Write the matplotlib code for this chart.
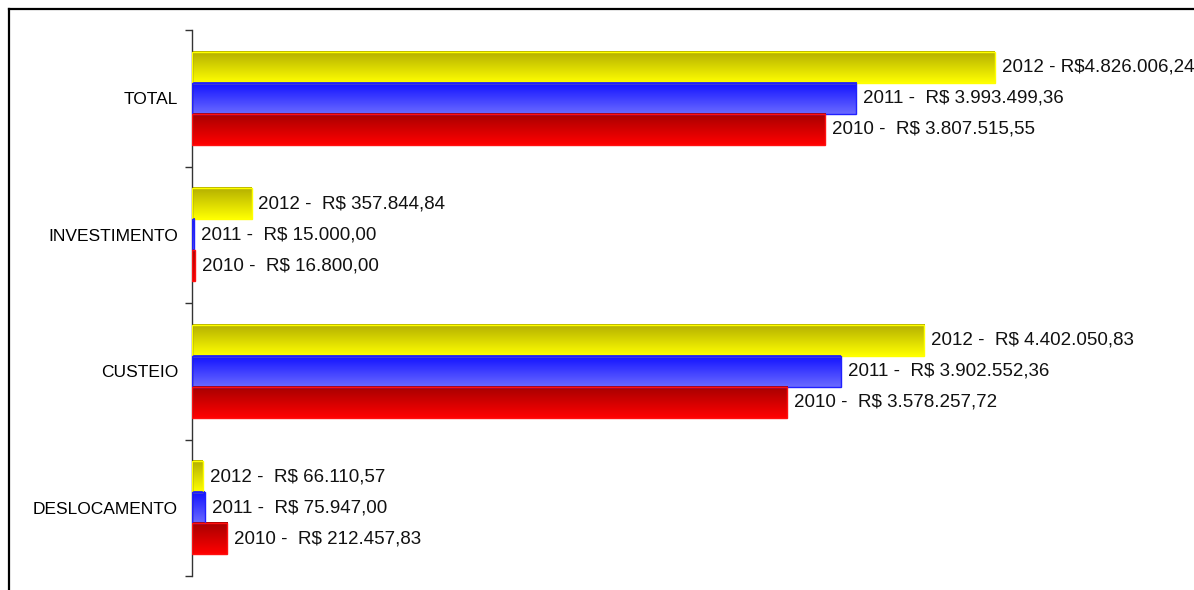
import numpy as np
import matplotlib
matplotlib.use("Agg")
import matplotlib.pyplot as plt
from matplotlib.lines import Line2D

plt.rcParams['font.family'] = ['Liberation Sans', 'DejaVu Sans']

categories = ['TOTAL', 'INVESTIMENTO', 'CUSTEIO', 'DESLOCAMENTO']
years = ['2012', '2011', '2010']
values_2012 = [4826006.24, 357844.84, 4402050.83, 66110.57]
values_2011 = [3993499.36, 15000.00, 3902552.36, 75947.00]
values_2010 = [3807515.55, 16800.00, 3578257.72, 212457.83]
labels_2012 = ['2012 - R$4.826.006,24', '2012 -  R$ 357.844,84',
               '2012 -  R$ 4.402.050,83', '2012 -  R$ 66.110,57']
labels_2011 = ['2011 -  R$ 3.993.499,36', '2011 -  R$ 15.000,00',
               '2011 -  R$ 3.902.552,36', '2011 -  R$ 75.947,00']
labels_2010 = ['2010 -  R$ 3.807.515,55', '2010 -  R$ 16.800,00',
               '2010 -  R$ 3.578.257,72', '2010 -  R$ 212.457,83']

series = [values_2012, values_2011, values_2010]
series_labels = [labels_2012, labels_2011, labels_2010]
# (top colour, bottom colour, edge colour)
styles = [('#b3ae00', '#ffff00', '#ffff00'),
          ('#1010ff', '#6a6aff', '#2020ff'),
          ('#a50000', '#ff0000', '#ff1010')]

W, H = 1194, 590
fig = plt.figure(figsize=(W / 100, H / 100), dpi=100)
ax = fig.add_axes([192 / W, 1 - 576 / H, 1 - 192 / W, 546 / H])

n = len(categories)
ypos = np.arange(n)[::-1]  # TOTAL at top
bh = 0.228
offsets = [bh, 0.0, -bh]

def to_rgb(c):
    return np.array(matplotlib.colors.to_rgb(c))

for vals, labs, off, (ctop, cbot, cedge) in zip(series, series_labels, offsets, styles):
    bars = ax.barh(ypos + off, vals, height=bh, facecolor='none',
                   edgecolor=cedge, linewidth=1.0, zorder=3)
    t = np.linspace(0, 1, 64)[:, None]
    grad = (1 - t) * to_rgb(ctop) + t * to_rgb(cbot)
    grad = grad[:, None, :]
    for p, lab in zip(bars.patches, labs):
        x0, y0, w, h = p.get_x(), p.get_y(), p.get_width(), p.get_height()
        im = ax.imshow(grad, extent=(x0, x0 + w, y0, y0 + h), origin='upper',
                       aspect='auto', zorder=2, interpolation='bilinear')
        ax.annotate(lab, (x0 + w, y0 + h / 2), xytext=(5, 0),
                    textcoords='offset points', va='center', ha='left',
                    fontsize=13.5, color='#111111', annotation_clip=False)

ax.set_xlim(0, 1002 / 166.3 * 1e6)
ax.set_ylim(-0.5, n - 0.5)

ax.set_yticks(ypos)
ax.set_yticklabels(categories, fontsize=12.5)
ax.tick_params(axis='y', which='major', length=0, pad=10)
ax.set_yticks(np.arange(n + 1) - 0.5, minor=True)
ax.tick_params(axis='y', which='minor', length=5, width=1, color='#333333')
ax.set_xticks([])

for s in ['top', 'right', 'bottom']:
    ax.spines[s].set_visible(False)
ax.spines['left'].set_color('#333333')
ax.spines['left'].set_linewidth(1.0)

# outer frame (only left and top visible in the crop)
fig.add_artist(Line2D([8.5 / W, 8.5 / W], [0, 1 - 8.5 / H], color='black',
                      linewidth=1.6, transform=fig.transFigure))
fig.add_artist(Line2D([8.5 / W, 1], [1 - 8.5 / H, 1 - 8.5 / H], color='black',
                      linewidth=1.6, transform=fig.transFigure))

fig.savefig('out.png', dpi=100)
